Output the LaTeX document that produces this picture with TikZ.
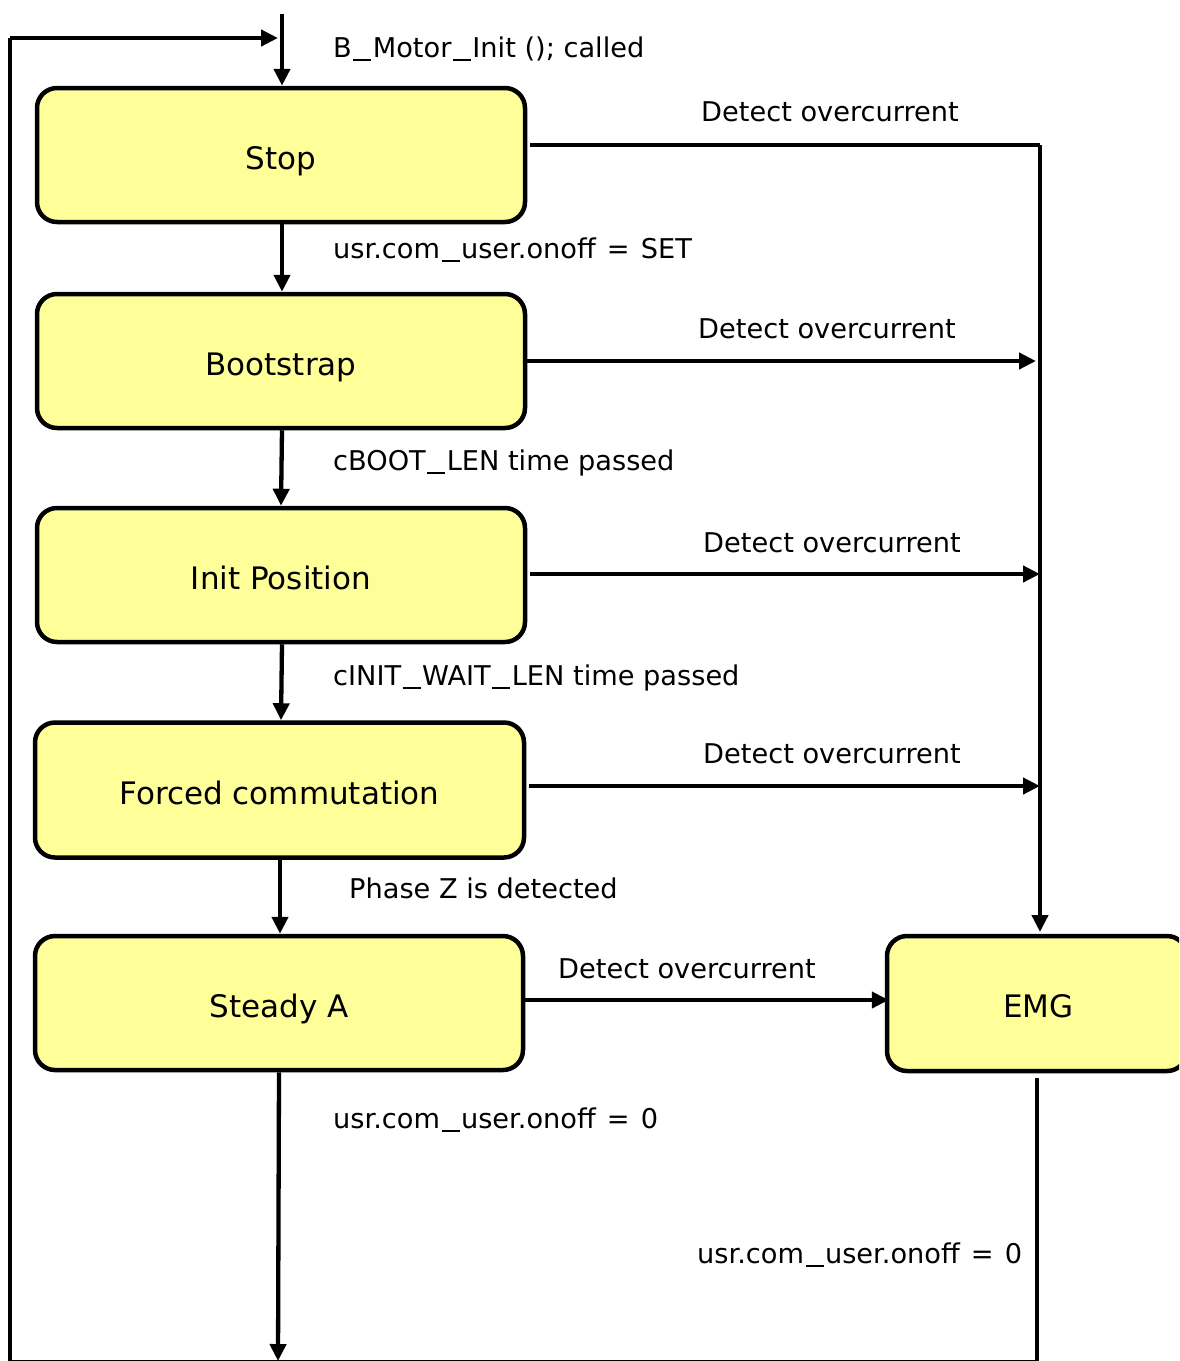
\documentclass[tikz,border=0pt]{standalone}
\usepackage{fontspec}
\setmainfont{DejaVu Sans}
\usetikzlibrary{arrows.meta}
\definecolor{boxfill}{HTML}{FFFF99}
\newcommand\wus{\kern1.5pt\rule[-3pt]{18pt}{1.8pt}\kern1.5pt}
\newcommand\weq{\kern2.5pt=\kern2.5pt}
\tikzset{
  state/.style={draw=black, line width=4.5pt, fill=boxfill, rounded corners=20pt, inner sep=0pt,
    font=\fontsize{31}{36}\selectfont, text height=30pt, text depth=1.4pt},
  lbl/.style={inner sep=0pt, font=\fontsize{27.2}{32}\selectfont, text=black, text height=21pt, text depth=1.1pt},
  conn/.style={line width=4.3pt, -{Triangle[length=17pt,width=16pt]}},
  plain/.style={line width=4.3pt}
}
\begin{document}
\begin{tikzpicture}[x=1pt,y=-1pt]
\useasboundingbox (0,0) rectangle (1179,1361);
\clip (0,0) rectangle (1179,1361);
% states
\node[state, minimum width=488pt, minimum height=134pt] (stop) at (281,155) {Stop};
\node[state, minimum width=488pt, minimum height=134pt] (boot) at (281,361) {Bootstrap};
\node[state, minimum width=488pt, minimum height=134pt] (init) at (281,575) {Init Position};
\node[state, minimum width=489pt, minimum height=135pt] (forced) at (279.5,790) {Forced commutation};
\node[state, minimum width=488pt, minimum height=134pt] (steady) at (279,1003) {Steady A};
\node[state, minimum width=300pt, minimum height=135pt, text width=300pt, align=left] (emg) at (1037,1003.5) {\hspace*{116pt}EMG};
% coordinates
\coordinate (start) at (282,14);
\coordinate (loopTop) at (10,38);
\coordinate (loopEnd) at (278,38);
\coordinate (loopBL) at (10,1362.5);
\coordinate (emgOut) at (1037,1078);
\coordinate (loopBR) at (1037,1362.5);
\coordinate (steadyEnd) at (278,1361);
\coordinate (busTop) at (1040,145);
\coordinate (busEnd) at (1040,932);
% connectors
\draw[conn] (start) -- (stop.north -| start);
\draw[plain] (emgOut) -- (loopBR) -- (loopBL) -- (loopTop);
\draw[conn] (loopTop) -- (loopEnd);
\draw[conn] (stop.south -| 282,0) -- (boot.north -| 282,0);
\draw[conn] (boot.south -| 282,0) -- (init.north -| 281,0);
\draw[conn] (init.south -| 282,0) -- (forced.north -| 281,0);
\draw[conn] (forced.south -| 280,0) -- (steady.north -| 280,0);
\draw[conn] (steady.south -| 279,0) -- (steadyEnd);
\draw[plain] (stop.east |- busTop) ++(3,0) -- (busTop);
\draw[conn] (busTop) -- (busEnd);
\draw[conn] (boot.east |- 0,361) -- (1036,361);
\draw[conn] (init.east |- 0,574) ++(3,0) -- (1040,574);
\draw[conn] (forced.east |- 0,786) ++(3,0) -- (1040,786);
\draw[conn] (steady.east |- 0,1000) -- ([xshift=4pt]emg.west |- 0,1000);
% labels
\node[lbl, anchor=west] (l0) at (333,48) {B\wus Motor\wus Init (); called};
\node[lbl] (l1) at (830,112) {Detect overcurrent};
\node[lbl, anchor=west] (l2) at (333,249) {usr.com\wus user.onoff \weq{} SET};
\node[lbl] (l3) at (827,329) {Detect overcurrent};
\node[lbl, anchor=west] (l4) at (333,461) {cBOOT\wus LEN time passed};
\node[lbl] (l5) at (832,543) {Detect overcurrent};
\node[lbl, anchor=west] (l6) at (333,676) {cINIT\wus WAIT\wus LEN time passed};
\node[lbl] (l7) at (832,754) {Detect overcurrent};
\node[lbl, anchor=west] (l8) at (349,889) {Phase Z is detected};
\node[lbl] (l9) at (687,969) {Detect overcurrent};
\node[lbl, anchor=west] (l10) at (333,1119) {usr.com\wus user.onoff \weq{} 0};
\node[lbl, anchor=west] (l11) at (697,1254) {usr.com\wus user.onoff \weq{} 0};
\end{tikzpicture}
\end{document}
